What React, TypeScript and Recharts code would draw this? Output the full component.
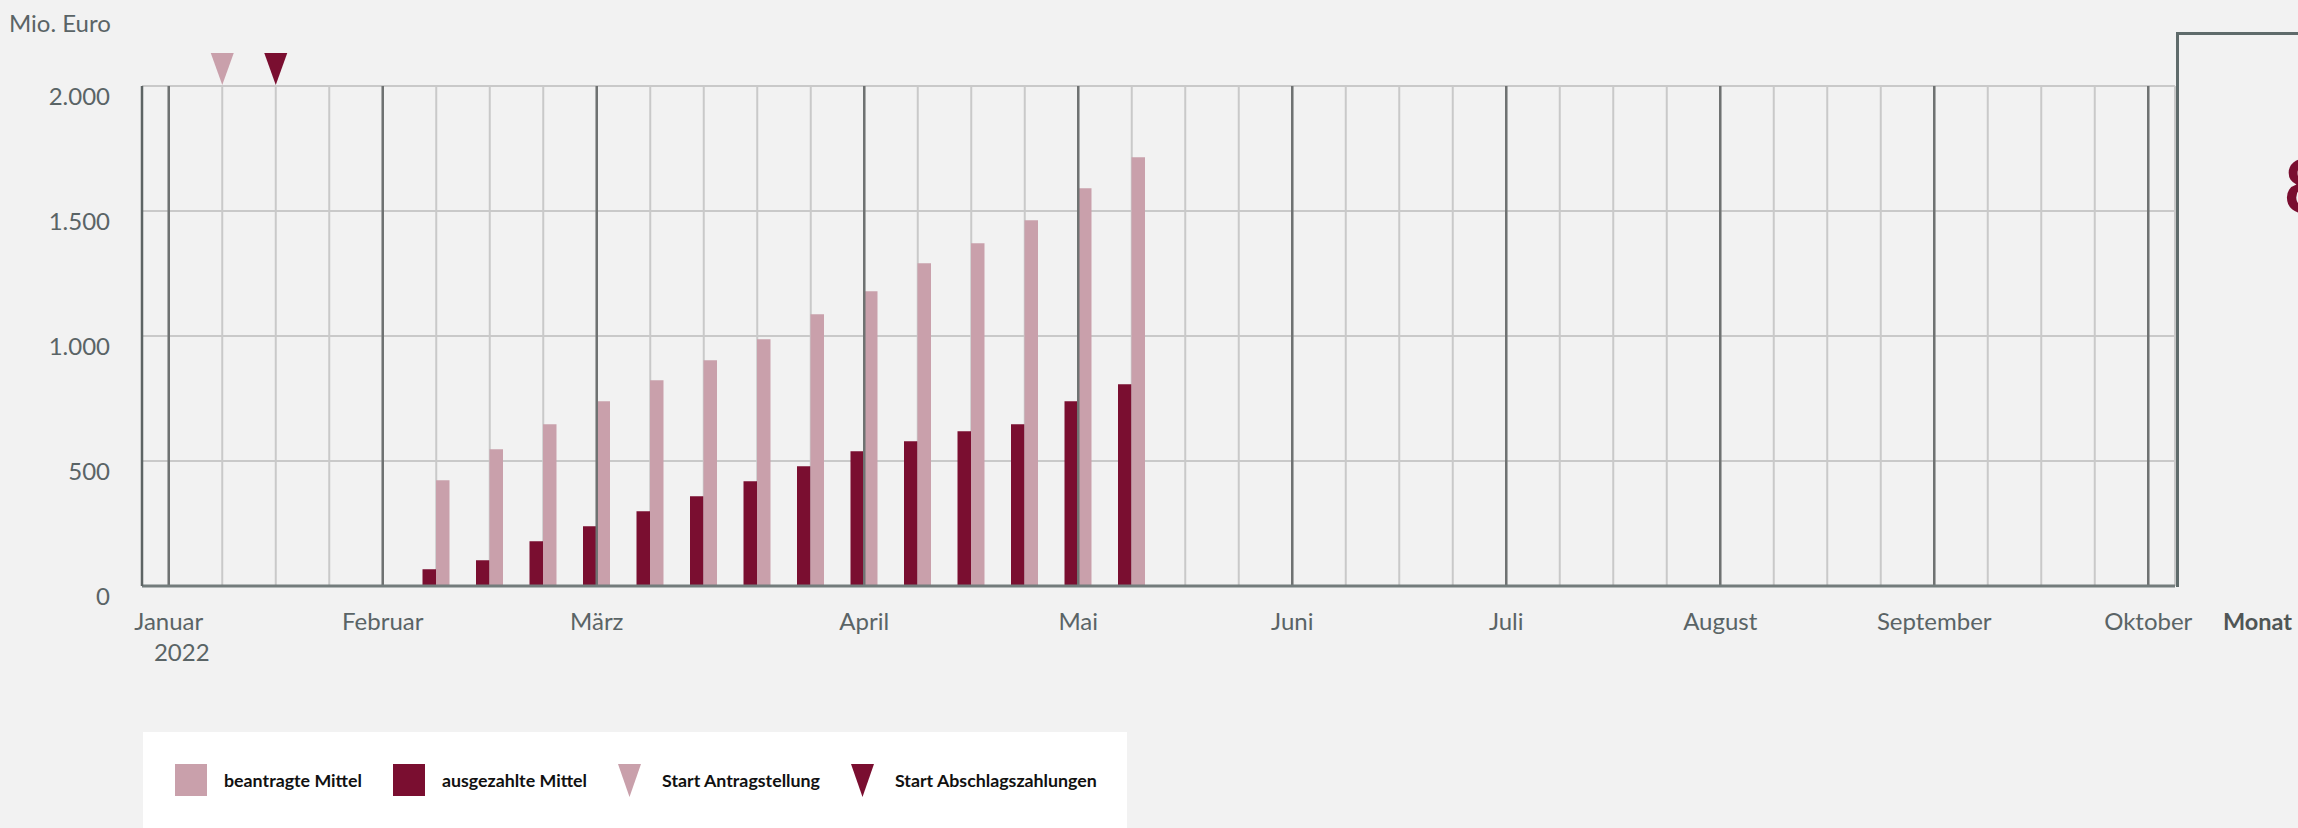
import React from "react";
import {
  ComposedChart,
  Bar,
  XAxis,
  YAxis,
  CartesianGrid,
  ReferenceLine,
  ReferenceDot,
} from "recharts";

// Kalenderwochen-Raster (Jan 2022 bis Okt 2022)
const weeks = [
  "Jan 1", "Jan 2", "Jan 3", "Jan 4",
  "Feb 1", "Feb 2", "Feb 3", "Feb 4",
  "Mär 1", "Mär 2", "Mär 3", "Mär 4", "Mär 5",
  "Apr 1", "Apr 2", "Apr 3", "Apr 4",
  "Mai 1", "Mai 2", "Mai 3", "Mai 4",
  "Jun 1", "Jun 2", "Jun 3", "Jun 4",
  "Jul 1", "Jul 2", "Jul 3", "Jul 4",
  "Aug 1", "Aug 2", "Aug 3", "Aug 4",
  "Sep 1", "Sep 2", "Sep 3", "Sep 4",
  "Okt 1",
];

const monthWeeks = ["Jan 1", "Feb 1", "Mär 1", "Apr 1", "Mai 1", "Jun 1", "Jul 1", "Aug 1", "Sep 1", "Okt 1"];
const months = ["Januar", "Februar", "März", "April", "Mai", "Juni", "Juli", "August", "September", "Oktober"];

// Wochen mit Werten (Mio. Euro)
const barWeeks = [
  "Feb 2", "Feb 3", "Feb 4", "Mär 1", "Mär 2", "Mär 3", "Mär 4",
  "Mär 5", "Apr 1", "Apr 2", "Apr 3", "Apr 4", "Mai 1", "Mai 2",
];
const beantragt = [423, 547, 647, 739, 823, 903, 987, 1087, 1179, 1291, 1371, 1463, 1591, 1715];
const ausgezahlt = [67, 103, 179, 239, 299, 359, 419, 479, 539, 579, 619, 647, 739, 807];

const yTicks = [0, 500, 1000, 1500, 2000];

const markerWeeks = ["Jan 2", "Jan 3"];
const markerLabels = ["Start Antragstellung", "Start Abschlagszahlungen"];

const PINK = "#c9a0ab";
const DARK = "#7a0e30";
const TEXT = "#5a6466";
const FONT = "Lato, 'Noto Sans', sans-serif";

const data = weeks.map((week) => {
  const i = barWeeks.indexOf(week);
  return {
    week,
    beantragt: i >= 0 ? beantragt[i] : null,
    ausgezahlt: i >= 0 ? ausgezahlt[i] : null,
  };
});

const fmt = (v: number) => String(v).replace(/\B(?=(\d{3})+(?!\d))/g, ".");

function MonthTick(props: any) {
  const { x, y, payload } = props;
  const i = monthWeeks.indexOf(payload.value);
  if (i < 0) return null;
  return (
    <g>
      <text x={x} y={y + 44} textAnchor="middle" fontSize={24} fill={TEXT} fontFamily={FONT}>
        {months[i]}
      </text>
      {i === 0 && (
        <text x={x + 13} y={y + 75} textAnchor="middle" fontSize={24} fill={TEXT} fontFamily={FONT}>
          2022
        </text>
      )}
    </g>
  );
}

function ValueTick(props: any) {
  const { x, y, payload } = props;
  return (
    <text x={x} y={y + 19} textAnchor="end" fontSize={24} fill={TEXT} fontFamily={FONT}>
      {fmt(payload.value)}
    </text>
  );
}

function Triangle({ cx, cy, fill }: any) {
  if (cx == null || cy == null) return null;
  return <path d={`M${cx - 11.5},${cy - 33} L${cx + 11.5},${cy - 33} L${cx},${cy - 1} Z`} fill={fill} />;
}

function LegendTriangle({ fill }: { fill: string }) {
  return (
    <svg width={23} height={33} style={{ display: "block" }}>
      <path d="M0,0 L23,0 L11.5,33 Z" fill={fill} />
    </svg>
  );
}

export default function App() {
  const legendItems = [
    { label: "beantragte Mittel", color: PINK, kind: "box" },
    { label: "ausgezahlte Mittel", color: DARK, kind: "box" },
    { label: markerLabels[0], color: PINK, kind: "tri" },
    { label: markerLabels[1], color: DARK, kind: "tri" },
  ];

  return (
    <div
      style={{
        position: "absolute",
        left: 0,
        top: 0,
        width: 2298,
        height: 828,
        background: "#f2f2f2",
        overflow: "hidden",
        fontFamily: FONT,
      }}
    >
      <ComposedChart
        width={2298}
        height={828}
        data={data}
        margin={{ top: 86, right: 123, bottom: 182, left: 82 }}
        barGap={0}
      >
        <CartesianGrid stroke="#c9c9c9" strokeWidth={2} />
        <XAxis
          dataKey="week"
          interval={0}
          height={60}
          tickSize={0}
          tickMargin={0}
          tickLine={false}
          axisLine={{ stroke: "#737c7c", strokeWidth: 3 }}
          tick={<MonthTick />}
        />
        <YAxis
          width={60}
          domain={[0, 2000]}
          ticks={yTicks}
          tickSize={0}
          tickMargin={32}
          tickLine={false}
          axisLine={{ stroke: "#5d6464", strokeWidth: 2.5 }}
          tick={<ValueTick />}
        />
        {monthWeeks.map((w) => (
          <ReferenceLine key={w} x={w} stroke="#6f7272" strokeWidth={2.5} />
        ))}
        <Bar dataKey="ausgezahlt" fill={DARK} barSize={13.5} isAnimationActive={false} />
        <Bar dataKey="beantragt" fill={PINK} barSize={13.5} isAnimationActive={false} />
        {markerWeeks.map((w, i) => (
          <ReferenceDot
            key={w}
            x={w}
            y={2000}
            r={0}
            ifOverflow="visible"
            shape={(p: any) => <Triangle {...p} fill={i === 0 ? PINK : DARK} />}
          />
        ))}
      </ComposedChart>

      <svg
        width={2298}
        height={828}
        style={{ position: "absolute", left: 0, top: 0, pointerEvents: "none" }}
      >
        <text x={9} y={32} fontSize={24} fill={TEXT} fontFamily={FONT}>
          Mio. Euro
        </text>
        <text x={2223} y={630} fontSize={23.5} fontWeight={700} fill="#505656" fontFamily={FONT}>
          Monat
        </text>
        <path d="M2177.5,587 V33.5 H2298" fill="none" stroke="#5f6b6b" strokeWidth={3} />
        <text x={2284} y={213} fontSize={74} fontWeight={700} fill={DARK} fontFamily={FONT}>
          8
        </text>
      </svg>

      <div
        style={{
          position: "absolute",
          left: 143,
          top: 732,
          width: 984,
          height: 96,
          background: "#ffffff",
          display: "flex",
          alignItems: "center",
          paddingLeft: 32,
          boxSizing: "border-box",
        }}
      >
        {legendItems.map((it, i) => (
          <div
            key={it.label}
            style={{ display: "flex", alignItems: "center", marginRight: i < 3 ? 31 : 0 }}
          >
            {it.kind === "box" ? (
              <div style={{ width: 32, height: 32, background: it.color, marginRight: 17 }} />
            ) : (
              <div style={{ marginRight: 21 }}>
                <LegendTriangle fill={it.color} />
              </div>
            )}
            <span style={{ fontSize: 17.8, fontWeight: 700, color: "#111", whiteSpace: "nowrap" }}>
              {it.label}
            </span>
          </div>
        ))}
      </div>
    </div>
  );
}
